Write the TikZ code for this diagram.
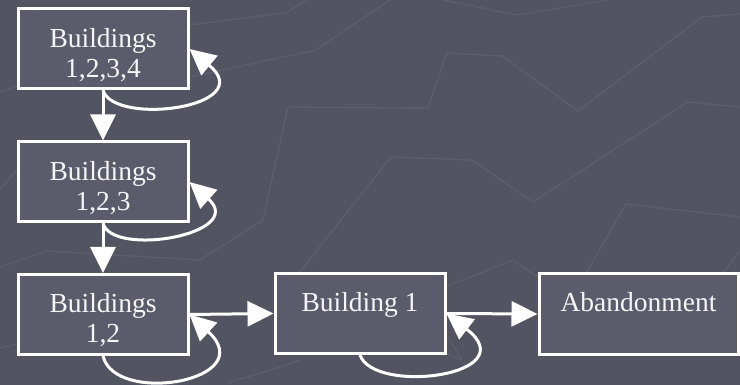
\documentclass[tikz,border=0pt]{standalone}
\usepackage{fontspec}
\setmainfont{Liberation Serif}
\usetikzlibrary{arrows.meta}
\definecolor{bg}{RGB}{83,84,98}
\definecolor{bgline}{RGB}{94,95,110}
\definecolor{boxfill}{RGB}{91,92,107}
\definecolor{fg}{RGB}{245,245,245}
\begin{document}
\begin{tikzpicture}[x=1pt,y=-1pt,
  box/.style={draw=white, line width=3pt, fill=boxfill, minimum width=170pt, minimum height=80pt, inner sep=0pt},
  lbl/.style={text=fg, font=\fontsize{27.5}{30}\selectfont, align=center, inner sep=0pt},
  arr/.style={draw=white, line width=3pt, -{Triangle[length=26pt,width=25pt]}},
  deco/.style={draw=bgline, line width=1.3pt, line join=round}]
\fill[bg] (0,0) rectangle (740,385);
\useasboundingbox (0,0) rectangle (740,385);
% faint background lines
\draw[deco] (0,92) -- (190,25) -- (285,13) -- (307,0);
\draw[deco] (150,85) -- (190,77) -- (316,50) -- (390,0);
\draw[deco] (443,0) -- (517,15) -- (607,0);
\draw[deco] (0,267) -- (47,251) -- (200,260) -- (263,220) -- (288,107) -- (428,108) -- (447,53) -- (502,56) -- (578,111) -- (702,17) -- (740,14);
\draw[deco] (290,285) -- (325,240) -- (391,157) -- (472,160) -- (533,202) -- (688,102) -- (740,107);
\draw[deco] (585,275) -- (626,204) -- (740,217);
\draw[deco] (723,273) -- (740,250);
\draw[deco] (440,289) -- (513,260) -- (545,282);
\draw[deco] (440,324) -- (462,360) -- (440,350);
\draw[deco] (0,190) -- (18,168);
\draw[deco] (0,348) -- (18,344);
\draw[deco] (227,383) -- (277,368) -- (300,360);
% boxes
\node[box] (b1) at (103,49) {};
\node[box] (b2) at (103,182) {};
\node[box] (b3) at (103,314.5) {};
\node[box] (b4) at (360,313.5) {};
\node[box, minimum width=199pt] (b5) at (638.5,314) {};
% labels
\node[lbl, yshift=-5.6pt] (t1) at (b1.center) {Buildings\\1,2,3,4};
\node[lbl, yshift=-5.6pt] (t2) at (b2.center) {Buildings\\1,2,3};
\node[lbl, yshift=-5.6pt] (t3) at (b3.center) {Buildings\\1,2};
\node[lbl, anchor=base, yshift=2pt] (t4) at (b4.center) {Building 1};
\node[lbl, anchor=base, yshift=2pt] (t5) at (b5.center) {Abandonment};
% transitions
\draw[arr] (b1.south) -- (b2.north);
\draw[arr] (b2.south) -- (b3.north);
\draw[arr] (b3.east) -- (b4.west);
\draw[arr] (b4.east) -- (b5.west);
% self loops
\draw[arr] (b1.south) .. controls +(12,36) and +(70,58) .. (b1.east);
\draw[arr] (b2.south) .. controls +(10,34) and +(58,52) .. (b2.east);
\draw[arr] (b3.south) .. controls +(12,50) and +(72,66) .. (b3.east);
\draw[arr] (b4.south) .. controls +(14,40) and +(80,62) .. (b4.east);
\end{tikzpicture}
\end{document}
